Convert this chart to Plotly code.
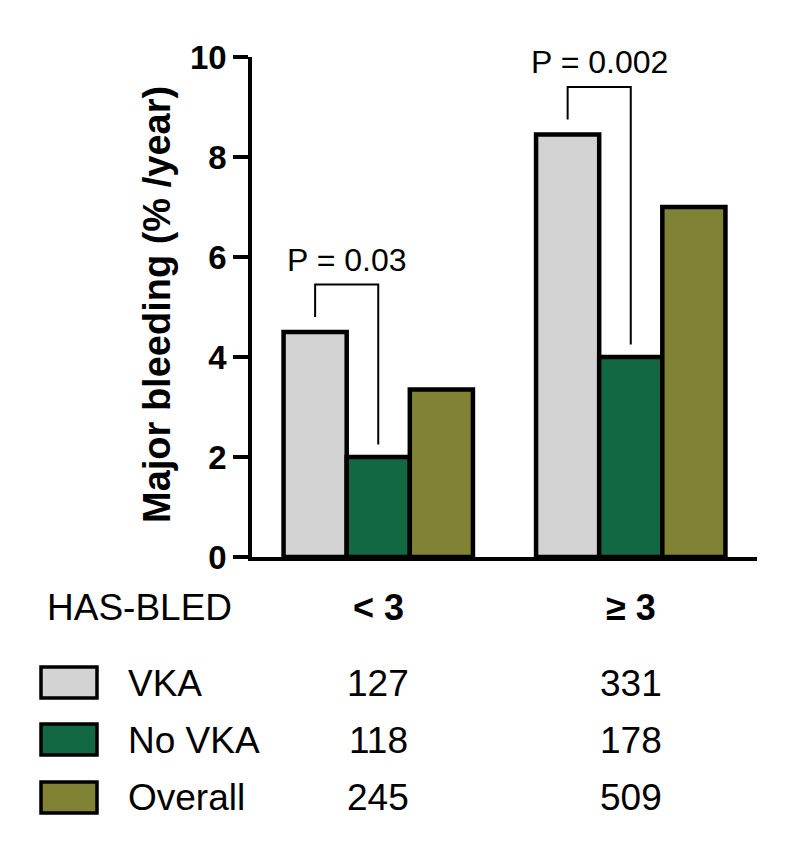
import plotly.graph_objects as go

# ---- data ----
groups = ["< 3", "≥ 3"]
series_names = ["VKA", "No VKA", "Overall"]
vka = [4.5, 8.45]
no_vka = [2.0, 4.0]
overall = [3.35, 7.0]
n_vka = [127, 331]
n_no_vka = [118, 178]
n_overall = [245, 509]
p_labels = ["P = 0.03", "P = 0.002"]
bracket_top = [5.45, 9.4]
bracket_left_bottom = [4.8, 8.75]
bracket_right_bottom = [2.25, 4.25]
p_label_y = [5.95, 9.9]
y_ticks = [0, 2, 4, 6, 8, 10]

colors = ["#d3d3d3", "#116843", "#808234"]
FONT = "Liberation Sans, Arial, sans-serif"

x_pos = list(range(len(groups)))
bargap = 0.25
bar_w = (1 - bargap) / 3

# page has an 8px body margin; plot area in page pixels: x 252..757, y 57..557
PX0, PX1, PY_TOP, PY_BOT = 252, 757, 57, 557
OFF = 8
W, H = 792, 843

fig = go.Figure()
for name, vals, col in zip(series_names, [vka, no_vka, overall], colors):
    fig.add_trace(go.Bar(
        x=x_pos, y=vals, name=name,
        marker=dict(color=col, line=dict(color="black", width=4.5)),
        showlegend=False, hoverinfo="skip"))

# significance brackets (VKA vs No VKA)
for i in range(len(groups)):
    xl = x_pos[i] - bar_w
    xr = x_pos[i]
    fig.add_trace(go.Scatter(
        x=[xl, xl, xr, xr],
        y=[bracket_left_bottom[i], bracket_top[i], bracket_top[i], bracket_right_bottom[i]],
        mode="lines", line=dict(color="black", width=2),
        showlegend=False, hoverinfo="skip"))
    fig.add_annotation(x=(xl + xr) / 2, y=p_label_y[i], xref="x", yref="y",
                       xanchor="center", yanchor="middle",
                       text=p_labels[i], showarrow=False,
                       font=dict(family=FONT, size=32, color="black"))


def px_to_paper_x(px):
    return (px - PX0) / (PX1 - PX0)


def py_to_paper_y(py):
    return (PY_BOT - py) / (PY_BOT - PY_TOP)


# y-axis title
fig.add_annotation(x=px_to_paper_x(157), y=py_to_paper_y(305), xref="paper", yref="paper",
                   xanchor="center", yanchor="middle",
                   text="<b>Major bleeding (% /year)</b>", textangle=-90,
                   showarrow=False, font=dict(family=FONT, size=38, color="black"))

# table below the chart
fig.add_annotation(x=px_to_paper_x(45), y=py_to_paper_y(607), xref="paper", yref="paper",
                   text="HAS-BLED", xanchor="left", yanchor="middle", showarrow=False,
                   font=dict(family=FONT, size=37, color="black"))
for i, g in enumerate(groups):
    fig.add_annotation(x=x_pos[i], y=py_to_paper_y(607), xref="x", yref="paper",
                       xanchor="center", yanchor="middle",
                       text=f"<b>{g}</b>", showarrow=False,
                       font=dict(family=FONT, size=36, color="black"))

row_y = [683, 740, 797]
box_y = [(667, 698), (724, 755), (782, 813)]
for r, (name, counts, col) in enumerate(zip(series_names, [n_vka, n_no_vka, n_overall], colors)):
    y0, y1 = box_y[r]
    fig.add_shape(type="rect", xref="paper", yref="paper",
                  x0=px_to_paper_x(41), x1=px_to_paper_x(97),
                  y0=py_to_paper_y(y1), y1=py_to_paper_y(y0),
                  fillcolor=col, line=dict(color="black", width=3.5))
    fig.add_annotation(x=px_to_paper_x(126), y=py_to_paper_y(row_y[r]), xref="paper", yref="paper",
                       text=name, xanchor="left", yanchor="middle", showarrow=False,
                       font=dict(family=FONT, size=37, color="black"))
    for i in range(len(groups)):
        fig.add_annotation(x=x_pos[i], y=py_to_paper_y(row_y[r]), xref="x", yref="paper",
                           xanchor="center", yanchor="middle",
                           text=str(counts[i]), showarrow=False,
                           font=dict(family=FONT, size=37, color="black"))

fig.update_layout(
    width=W, height=H,
    margin=dict(l=PX0 - OFF, r=W - (PX1 - OFF), t=PY_TOP - OFF, b=H - (PY_BOT - OFF)),
    paper_bgcolor="white", plot_bgcolor="white",
    barmode="group", bargap=bargap, bargroupgap=0,
    xaxis=dict(range=[-0.5, 1.5], showticklabels=False, ticks="",
               showgrid=False, zeroline=False,
               showline=True, linecolor="black", linewidth=3.5),
    yaxis=dict(range=[0, 10], tickvals=y_ticks, ticks="outside", ticklen=15,
               tickwidth=3.5, tickcolor="black",
               showgrid=False, zeroline=False,
               showline=True, linecolor="black", linewidth=3.5,
               tickfont=dict(family=FONT, size=33, color="black", weight="bold")),
)

fig.write_html("out.html")
